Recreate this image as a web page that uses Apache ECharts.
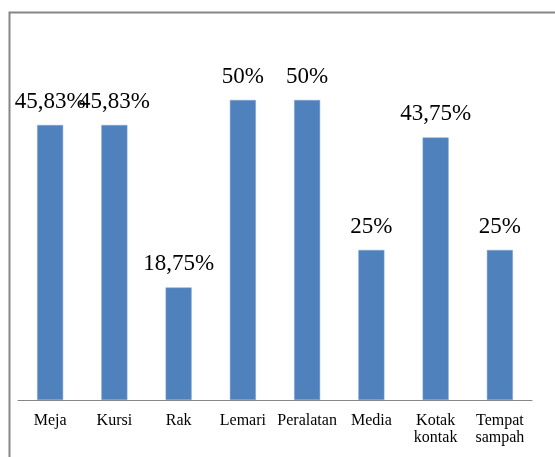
<!DOCTYPE html>
<html>
<head>
<meta charset="utf-8">
<script src="https://cdn.jsdelivr.net/npm/echarts@6/dist/echarts.min.js"></script>
<style>html,body{margin:0;padding:0;background:#fff}#c{width:555px;height:457px}</style>
</head>
<body>
<div id="c"></div>
<script>
var categories = ['Meja', 'Kursi', 'Rak', 'Lemari', 'Peralatan', 'Media', 'Kotak\nkontak', 'Tempat\nsampah'];
var values = [45.83, 45.83, 18.75, 50, 50, 25, 43.75, 25];

var chart = echarts.init(document.getElementById('c'), null, {renderer: 'canvas'});
var serif = '"Liberation Serif", "Times New Roman", "DejaVu Serif", serif';
chart.setOption({
  animation: false,
  backgroundColor: '#fff',
  graphic: [{
    type: 'rect', left: 7, top: 10, z: -1,
    shape: {width: 600, height: 500},
    style: {fill: 'none', stroke: '#868686', lineWidth: 2}
  }],
  grid: {left: 18, right: 23, top: 40, bottom: 57},
  xAxis: {
    type: 'category',
    data: categories,
    axisLine: {lineStyle: {color: '#868686', width: 1}},
    axisTick: {show: false},
    axisLabel: {color: '#000', fontFamily: serif, fontSize: 16, margin: 12, lineHeight: 17, interval: 0}
  },
  yAxis: {
    type: 'value', min: 0, max: 60,
    show: false,
    splitLine: {show: false}
  },
  series: [{
    type: 'bar',
    data: values,
    barWidth: 26,
    itemStyle: {color: '#4F81BD', borderColor: '#7FA3D0', borderWidth: 0.5},
    label: {
      show: true, position: 'top', distance: 12,
      color: '#000', fontFamily: serif, fontSize: 23,
      formatter: function (p) { return String(p.value).replace('.', ',') + '%'; }
    }
  }]
});
</script>
</body>
</html>
